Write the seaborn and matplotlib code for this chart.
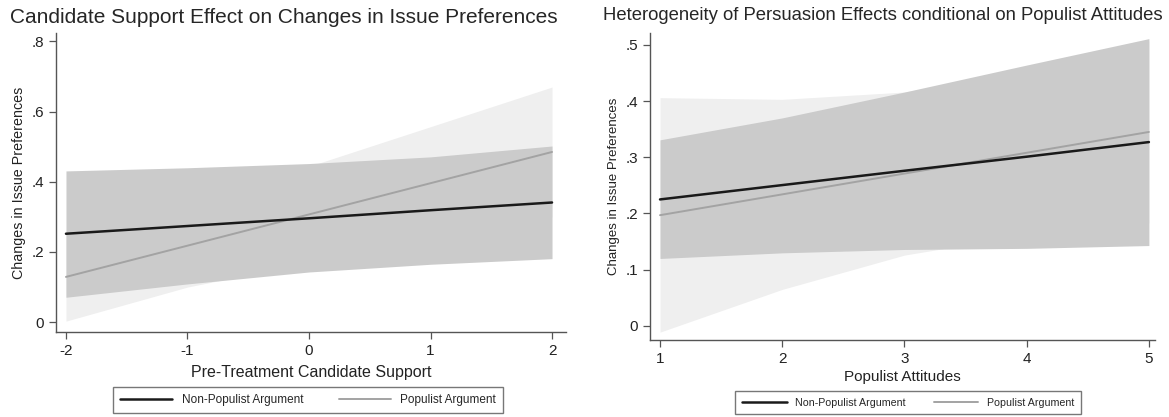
import matplotlib
matplotlib.use('Agg')
import matplotlib.pyplot as plt
import seaborn as sns
import pandas as pd
from matplotlib.lines import Line2D

# Left panel: pre-treatment candidate support
support_x = [-2, -1, 0, 1, 2]
nonpop_support = [0.252, 0.274, 0.296, 0.319, 0.341]
nonpop_support_lo = [0.071, 0.109, 0.143, 0.165, 0.181]
nonpop_support_hi = [0.431, 0.440, 0.452, 0.471, 0.502]
pop_support = [0.129, 0.218, 0.307, 0.396, 0.485]
pop_support_lo = [0.003, 0.100, 0.170, 0.235, 0.300]
pop_support_hi = [0.255, 0.336, 0.444, 0.557, 0.670]

# Right panel: populist attitudes
attitude_x = [1, 2, 3, 4, 5]
nonpop_att = [0.225, 0.2505, 0.276, 0.301, 0.327]
nonpop_att_lo = [0.120, 0.130, 0.136, 0.138, 0.143]
nonpop_att_hi = [0.331, 0.370, 0.416, 0.464, 0.511]
pop_att = [0.197, 0.234, 0.271, 0.308, 0.345]
pop_att_lo = [-0.011, 0.065, 0.126, 0.162, 0.183]
pop_att_hi = [0.406, 0.403, 0.416, 0.454, 0.507]

series_labels = ['Non-Populist Argument', 'Populist Argument']
line_colors = ['#1a1a1a', '#a3a3a3']
band_colors = ['#cbcbcb', '#efefef']

sns.set_style('ticks')
plt.rcParams['font.family'] = ['Liberation Sans', 'DejaVu Sans']


def make_frame(x, nonpop, pop):
    return pd.DataFrame({
        'x': list(x) * 2,
        'y': list(nonpop) + list(pop),
        'series': [series_labels[0]] * len(x) + [series_labels[1]] * len(x),
    })


def draw_panel(ax, x, nonpop, nonpop_lo, nonpop_hi, pop, pop_lo, pop_hi):
    # light band for populist drawn first, darker non-populist band on top
    ax.fill_between(x, pop_lo, pop_hi, color=band_colors[1], lw=0, zorder=1)
    ax.fill_between(x, nonpop_lo, nonpop_hi, color=band_colors[0], lw=0, zorder=2)
    df = make_frame(x, nonpop, pop)
    sns.lineplot(data=df, x='x', y='y', hue='series', hue_order=[series_labels[1], series_labels[0]],
                 palette={series_labels[0]: line_colors[0], series_labels[1]: line_colors[1]},
                 ax=ax, legend=False, zorder=3)
    ax.lines[0].set_linewidth(1.4)
    ax.lines[1].set_linewidth(1.8)
    for side in ['top', 'right']:
        ax.spines[side].set_visible(False)
    for side in ['left', 'bottom']:
        ax.spines[side].set_color('#555555')
        ax.spines[side].set_linewidth(1.0)
    ax.tick_params(colors='#555555', labelcolor='#222222', length=5, width=0.9, labelsize=11)


fig = plt.figure(figsize=(11.69, 4.17), dpi=100)
ax1 = fig.add_axes([56 / 1169, 1 - 332 / 417, 510 / 1169, 299 / 417])
ax2 = fig.add_axes([650 / 1169, 1 - 340 / 417, 505 / 1169, 307 / 417])

draw_panel(ax1, support_x, nonpop_support, nonpop_support_lo, nonpop_support_hi,
           pop_support, pop_support_lo, pop_support_hi)
ax1.set_xlim(-2.082, 2.115)
ax1.set_ylim(-0.028, 0.824)
ax1.set_xticks(support_x)
ax1.set_xticklabels(['-2', '-1', '0', '1', '2'])
ax1.set_yticks([0, 0.2, 0.4, 0.6, 0.8])
ax1.set_yticklabels(['0', '.2', '.4', '.6', '.8'])
ax1.set_xlabel('Pre-Treatment Candidate Support', fontsize=11.5, color='#222222', labelpad=5)
ax1.set_ylabel('Changes in Issue Preferences', fontsize=10.3, color='#222222')
ax1.set_title('Candidate Support Effect on Changes in Issue Preferences', fontsize=15, loc='left',
              x=-0.09, pad=7)

draw_panel(ax2, attitude_x, nonpop_att, nonpop_att_lo, nonpop_att_hi,
           pop_att, pop_att_lo, pop_att_hi)
ax2.set_xlim(0.918, 5.05)
ax2.set_ylim(-0.025, 0.521)
ax2.set_xticks(attitude_x)
ax2.set_yticks([0, 0.1, 0.2, 0.3, 0.4, 0.5])
ax2.set_yticklabels(['0', '.1', '.2', '.3', '.4', '.5'])
ax2.set_xlabel('Populist Attitudes', fontsize=11, color='#222222', labelpad=3)
ax2.set_ylabel('Changes in Issue Preferences', fontsize=9.5, color='#222222')
ax2.set_title('Heterogeneity of Persuasion Effects conditional on Populist Attitudes', fontsize=13.3,
              loc='left', x=-0.093, pad=9)

# legends below each panel
handles = [Line2D([], [], color=line_colors[0], lw=1.8), Line2D([], [], color=line_colors[1], lw=1.4)]
leg_specs = [((308 / 1169, 1 - 381 / 417), 8.5, 4.4, 3.0), ((908 / 1169, 1 - 386 / 417), 7.7, 4.2, 2.6)]
for anchor, fsize, hlen, cspace in leg_specs:
    leg = fig.legend(handles, series_labels, loc='upper center', bbox_to_anchor=anchor, ncol=2,
                     fontsize=fsize, frameon=True, fancybox=False, edgecolor='#555555',
                     handlelength=hlen, columnspacing=cspace, borderpad=0.6)
    leg.get_frame().set_linewidth(1.0)

plt.savefig('out.png', dpi=100)
